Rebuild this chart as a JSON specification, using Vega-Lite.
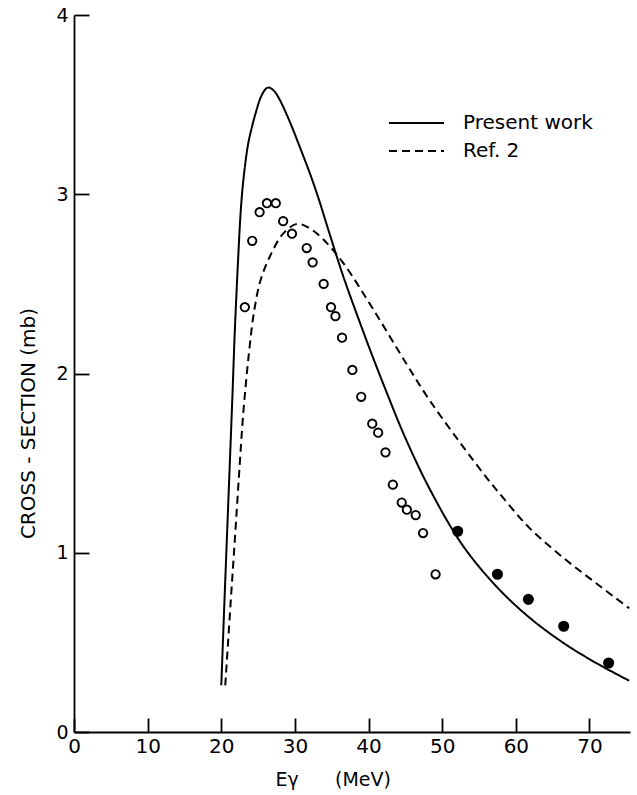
{
  "$schema": "https://vega.github.io/schema/vega-lite/v6.json",
  "autosize": {"type": "none"},
  "padding": {"left": 74, "top": 15, "right": 7, "bottom": 63},
  "width": 556,
  "height": 717,
  "background": "white",
  "config": {
    "view": {"stroke": null},
    "font": "DejaVu Sans",
    "axis": {
      "domainColor": "black",
      "domainWidth": 1.8,
      "tickColor": "black",
      "tickWidth": 1.8,
      "grid": false,
      "labelColor": "black",
      "labelFont": "DejaVu Sans",
      "labelFontSize": 19,
      "titleColor": "black",
      "titleFont": "DejaVu Sans",
      "titleFontSize": 19,
      "titleFontWeight": "normal"
    }
  },
  "datasets": {
    "curves": [
      {"E": 20.0, "sigma": 0.26, "series": "Present work"},
      {"E": 20.44, "sigma": 0.74, "series": "Present work"},
      {"E": 20.79, "sigma": 1.11, "series": "Present work"},
      {"E": 21.14, "sigma": 1.48, "series": "Present work"},
      {"E": 21.49, "sigma": 1.85, "series": "Present work"},
      {"E": 21.85, "sigma": 2.25, "series": "Present work"},
      {"E": 22.3, "sigma": 2.65, "series": "Present work"},
      {"E": 22.6, "sigma": 2.88, "series": "Present work"},
      {"E": 22.95, "sigma": 3.06, "series": "Present work"},
      {"E": 23.6, "sigma": 3.27, "series": "Present work"},
      {"E": 24.07, "sigma": 3.36, "series": "Present work"},
      {"E": 24.65, "sigma": 3.45, "series": "Present work"},
      {"E": 25.4, "sigma": 3.545, "series": "Present work"},
      {"E": 26.1, "sigma": 3.59, "series": "Present work"},
      {"E": 26.5, "sigma": 3.595, "series": "Present work"},
      {"E": 27.2, "sigma": 3.575, "series": "Present work"},
      {"E": 27.9, "sigma": 3.53, "series": "Present work"},
      {"E": 29.3, "sigma": 3.405, "series": "Present work"},
      {"E": 30.6, "sigma": 3.27, "series": "Present work"},
      {"E": 32.0, "sigma": 3.12, "series": "Present work"},
      {"E": 33.1, "sigma": 2.99, "series": "Present work"},
      {"E": 34.7, "sigma": 2.78, "series": "Present work"},
      {"E": 36.5, "sigma": 2.55, "series": "Present work"},
      {"E": 38.5, "sigma": 2.32, "series": "Present work"},
      {"E": 40.5, "sigma": 2.1, "series": "Present work"},
      {"E": 42.5, "sigma": 1.89, "series": "Present work"},
      {"E": 45.0, "sigma": 1.64, "series": "Present work"},
      {"E": 48.5, "sigma": 1.34, "series": "Present work"},
      {"E": 52.8, "sigma": 1.04, "series": "Present work"},
      {"E": 57.4, "sigma": 0.81, "series": "Present work"},
      {"E": 61.8, "sigma": 0.64, "series": "Present work"},
      {"E": 66.35, "sigma": 0.5, "series": "Present work"},
      {"E": 70.9, "sigma": 0.385, "series": "Present work"},
      {"E": 75.4, "sigma": 0.286, "series": "Present work"},
      {"E": 20.54, "sigma": 0.26, "series": "Ref. 2"},
      {"E": 21.3, "sigma": 0.74, "series": "Ref. 2"},
      {"E": 21.9, "sigma": 1.11, "series": "Ref. 2"},
      {"E": 22.45, "sigma": 1.46, "series": "Ref. 2"},
      {"E": 22.95, "sigma": 1.76, "series": "Ref. 2"},
      {"E": 23.4, "sigma": 1.97, "series": "Ref. 2"},
      {"E": 23.85, "sigma": 2.15, "series": "Ref. 2"},
      {"E": 24.43, "sigma": 2.34, "series": "Ref. 2"},
      {"E": 25.33, "sigma": 2.52, "series": "Ref. 2"},
      {"E": 26.8, "sigma": 2.67, "series": "Ref. 2"},
      {"E": 28.4, "sigma": 2.78, "series": "Ref. 2"},
      {"E": 30.3, "sigma": 2.835, "series": "Ref. 2"},
      {"E": 32.0, "sigma": 2.81, "series": "Ref. 2"},
      {"E": 33.8, "sigma": 2.75, "series": "Ref. 2"},
      {"E": 36.5, "sigma": 2.62, "series": "Ref. 2"},
      {"E": 40.6, "sigma": 2.36, "series": "Ref. 2"},
      {"E": 45.2, "sigma": 2.05, "series": "Ref. 2"},
      {"E": 48.3, "sigma": 1.85, "series": "Ref. 2"},
      {"E": 52.5, "sigma": 1.61, "series": "Ref. 2"},
      {"E": 56.2, "sigma": 1.41, "series": "Ref. 2"},
      {"E": 58.2, "sigma": 1.31, "series": "Ref. 2"},
      {"E": 61.8, "sigma": 1.14, "series": "Ref. 2"},
      {"E": 66.35, "sigma": 0.975, "series": "Ref. 2"},
      {"E": 70.9, "sigma": 0.83, "series": "Ref. 2"},
      {"E": 75.4, "sigma": 0.69, "series": "Ref. 2"}
    ],
    "points": [
      {"E": 23.2, "sigma": 2.37, "type": "open"},
      {"E": 24.2, "sigma": 2.74, "type": "open"},
      {"E": 25.2, "sigma": 2.9, "type": "open"},
      {"E": 26.2, "sigma": 2.95, "type": "open"},
      {"E": 27.4, "sigma": 2.95, "type": "open"},
      {"E": 28.4, "sigma": 2.85, "type": "open"},
      {"E": 29.6, "sigma": 2.78, "type": "open"},
      {"E": 31.6, "sigma": 2.7, "type": "open"},
      {"E": 32.4, "sigma": 2.62, "type": "open"},
      {"E": 33.9, "sigma": 2.5, "type": "open"},
      {"E": 34.9, "sigma": 2.37, "type": "open"},
      {"E": 35.5, "sigma": 2.32, "type": "open"},
      {"E": 36.4, "sigma": 2.2, "type": "open"},
      {"E": 37.8, "sigma": 2.02, "type": "open"},
      {"E": 39.0, "sigma": 1.87, "type": "open"},
      {"E": 40.5, "sigma": 1.72, "type": "open"},
      {"E": 41.3, "sigma": 1.67, "type": "open"},
      {"E": 42.3, "sigma": 1.56, "type": "open"},
      {"E": 43.3, "sigma": 1.38, "type": "open"},
      {"E": 44.5, "sigma": 1.28, "type": "open"},
      {"E": 45.2, "sigma": 1.24, "type": "open"},
      {"E": 46.4, "sigma": 1.21, "type": "open"},
      {"E": 47.4, "sigma": 1.11, "type": "open"},
      {"E": 49.1, "sigma": 0.88, "type": "open"},
      {"E": 52.1, "sigma": 1.12, "type": "filled"},
      {"E": 57.5, "sigma": 0.88, "type": "filled"},
      {"E": 61.7, "sigma": 0.74, "type": "filled"},
      {"E": 66.5, "sigma": 0.59, "type": "filled"},
      {"E": 72.6, "sigma": 0.385, "type": "filled"}
    ]
  },
  "layer": [
    {
      "data": {"name": "curves"},
      "mark": {"type": "line", "interpolate": "catmull-rom", "color": "black", "strokeWidth": 2},
      "encoding": {
        "x": {
          "field": "E", "type": "quantitative",
          "scale": {"domain": [0, 75.5], "nice": false, "zero": false},
          "axis": {
            "values": [0, 10, 20, 30, 40, 50, 60, 70],
            "format": "d",
            "tickSize": -14,
            "labelPadding": 18,
            "labelFontSize": 20,
            "labelFlush": false,
            "title": "Eγ\u00a0\u00a0\u00a0\u00a0\u00a0\u00a0(MeV)",
            "titleAnchor": "start",
            "titleX": 201,
            "titleY": 38,
            "titleBaseline": "top"
          }
        },
        "y": {
          "field": "sigma", "type": "quantitative",
          "scale": {"domain": [0, 4], "nice": false},
          "axis": {
            "values": [0, 1, 2, 3, 4],
            "format": "d",
            "tickSize": -15,
            "labelPadding": 21,
            "labelFlush": false,
            "title": "CROSS - SECTION (mb)",
            "titleFontSize": 20,
            "titleX": -46,
            "titleY": 408,
            "titleAngle": -90,
            "titleBaseline": "middle"
          }
        },
        "strokeDash": {
          "field": "series", "type": "nominal",
          "scale": {"domain": ["Present work", "Ref. 2"], "range": [[1, 0], [8, 5]]},
          "legend": {
            "title": null,
            "orient": "none",
            "legendX": 314,
            "legendY": 94,
            "symbolType": "stroke",
            "symbolSize": 3025,
            "symbolStrokeWidth": 1.8,
            "symbolStrokeColor": "black",
            "clipHeight": 28,
            "rowPadding": 0,
            "labelOffset": 18,
            "labelFontSize": 20,
            "labelFont": "DejaVu Sans",
            "labelColor": "black",
            "labelLimit": 300
          }
        }
      }
    },
    {
      "data": {"name": "points"},
      "mark": {"type": "point", "shape": "circle", "stroke": "black", "strokeWidth": 1.9, "opacity": 1},
      "encoding": {
        "x": {"field": "E", "type": "quantitative"},
        "y": {"field": "sigma", "type": "quantitative"},
        "fill": {
          "field": "type", "type": "nominal",
          "scale": {"domain": ["open", "filled"], "range": ["white", "black"]},
          "legend": null
        },
        "size": {
          "field": "type", "type": "nominal",
          "scale": {"domain": ["open", "filled"], "range": [70, 85]},
          "legend": null
        }
      }
    }
  ]
}
